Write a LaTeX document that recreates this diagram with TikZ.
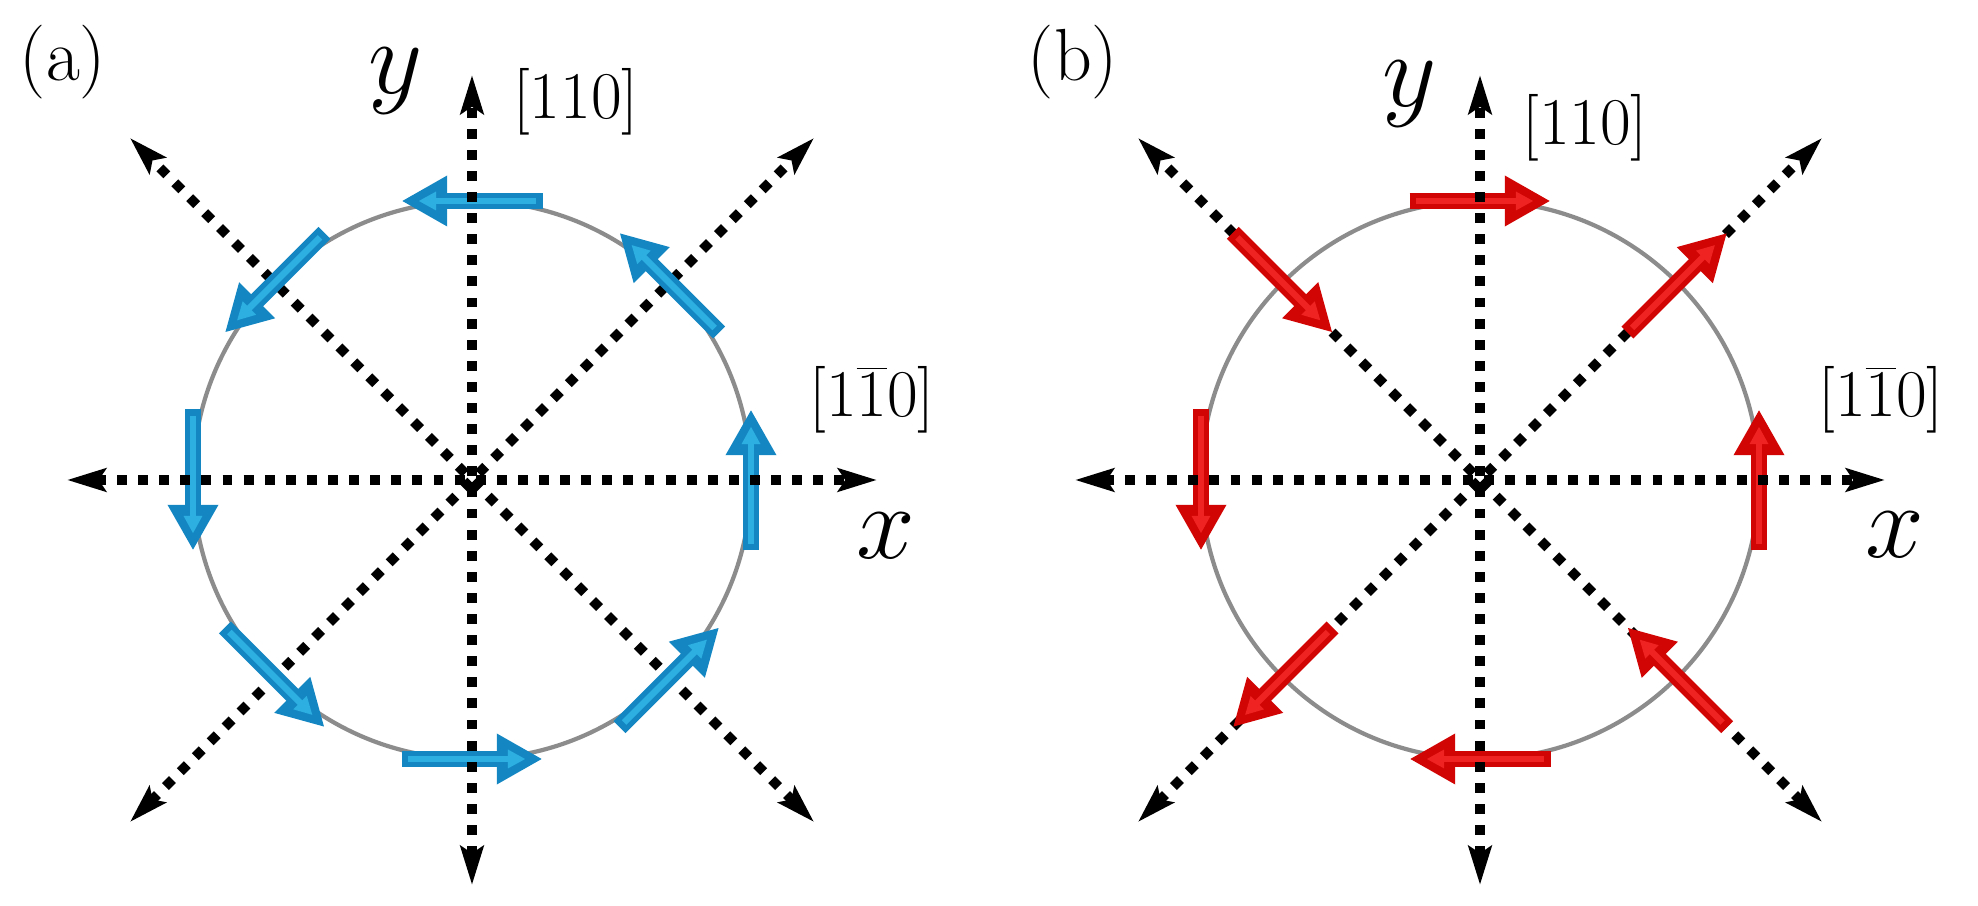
\RequirePackage{fix-cm}
\documentclass[tikz,border=0pt]{standalone}
\usepackage{tikz}
\usetikzlibrary{arrows.meta}
\definecolor{spinblue}{RGB}{20,135,195}
\definecolor{spinbluehi}{RGB}{45,175,225}
\definecolor{spinred}{RGB}{210,5,5}
\definecolor{spinredhi}{RGB}{240,35,35}
\definecolor{orbitgray}{RGB}{140,140,140}
\tikzset{
	dotaxis/.style={line width=2.8pt, dash pattern=on 2.8pt off 3.2pt,
		{Stealth[length=11pt,width=6.5pt,inset=2pt]}-{Stealth[length=11pt,width=6.5pt,inset=2pt]}},
	orbit/.style={draw=orbitgray, line width=1.2pt},
	spinarrow/.style={line width=4.8pt, -{Triangle[length=13pt,width=13.5pt]}},
	spinhi/.style={line width=1.8pt, shorten >=3pt, -{Triangle[length=5pt,width=5pt]}},
	tag/.style={font=\fontsize{21}{25}\selectfont},
	axlabel/.style={font=\fontsize{30}{36}\selectfont},
	dirlabel/.style={font=\fontsize{19}{23}\selectfont}
}

\begin{document}
\begin{tikzpicture}[x=0.01cm, y=0.01cm]
	\useasboundingbox (0,0) rectangle (1978,906);
	% axes, ring and spins of both panels
	\foreach \p/\cx/\sgn in {a/472/0,b/1480/1}{
		\begin{scope}[shift={(\cx,426)}]
			\coordinate (\p-c) at (0,0);
			\coordinate (\p-E) at (405,0);
			\coordinate (\p-W) at (-405,0);
			\coordinate (\p-N) at (0,405);
			\coordinate (\p-S) at (0,-405);
			\coordinate (\p-NE) at (342,342);
			\coordinate (\p-SW) at (-342,-342);
			\coordinate (\p-NW) at (-342,342);
			\coordinate (\p-SE) at (342,-342);
			\draw[orbit] (\p-c) circle (279);
			\draw[dotaxis] (\p-SW) -- (\p-NE);
			\draw[dotaxis] (\p-SE) -- (\p-NW);
			\foreach \t in {0,45,...,315}{
				\ifnum\sgn=0
					\draw[spinarrow, spinblue, rotate=\t] (279,-70.5) -- (279,70.5);
					\draw[spinhi, spinbluehi, rotate=\t] (279,-64) -- (279,64);
				\else
					\draw[spinarrow, spinred, rotate=\t]
						({279-70.5*sin(2*\t)},{-70.5*cos(2*\t)}) -- ({279+70.5*sin(2*\t)},{70.5*cos(2*\t)});
					\draw[spinhi, spinredhi, rotate=\t]
						({279-64*sin(2*\t)},{-64*cos(2*\t)}) -- ({279+64*sin(2*\t)},{64*cos(2*\t)});
				\fi
			}
			\draw[dotaxis] (\p-W) -- (\p-E);
			\draw[dotaxis] (\p-S) -- (\p-N);
		\end{scope}
	}
	% labels
	\node[tag] (a-tag) at (63,844) {(a)};
	\node[axlabel] (a-y) at (396,825) {$y$};
	\node[dirlabel] (a-110) at (576,804) {$[110]$};
	\node[axlabel] (a-x) at (886,370) {$x$};
	\node[dirlabel] (a-1b10) at (872,506) {$[1\overline{1}0]$};
	\node[tag] (b-tag) at (1073,844) {(b)};
	\node[axlabel] (b-y) at (1410,812) {$y$};
	\node[dirlabel] (b-110) at (1585,778) {$[110]$};
	\node[axlabel] (b-x) at (1895,371) {$x$};
	\node[dirlabel] (b-1b10) at (1881,506) {$[1\overline{1}0]$};
\end{tikzpicture}
\end{document}
